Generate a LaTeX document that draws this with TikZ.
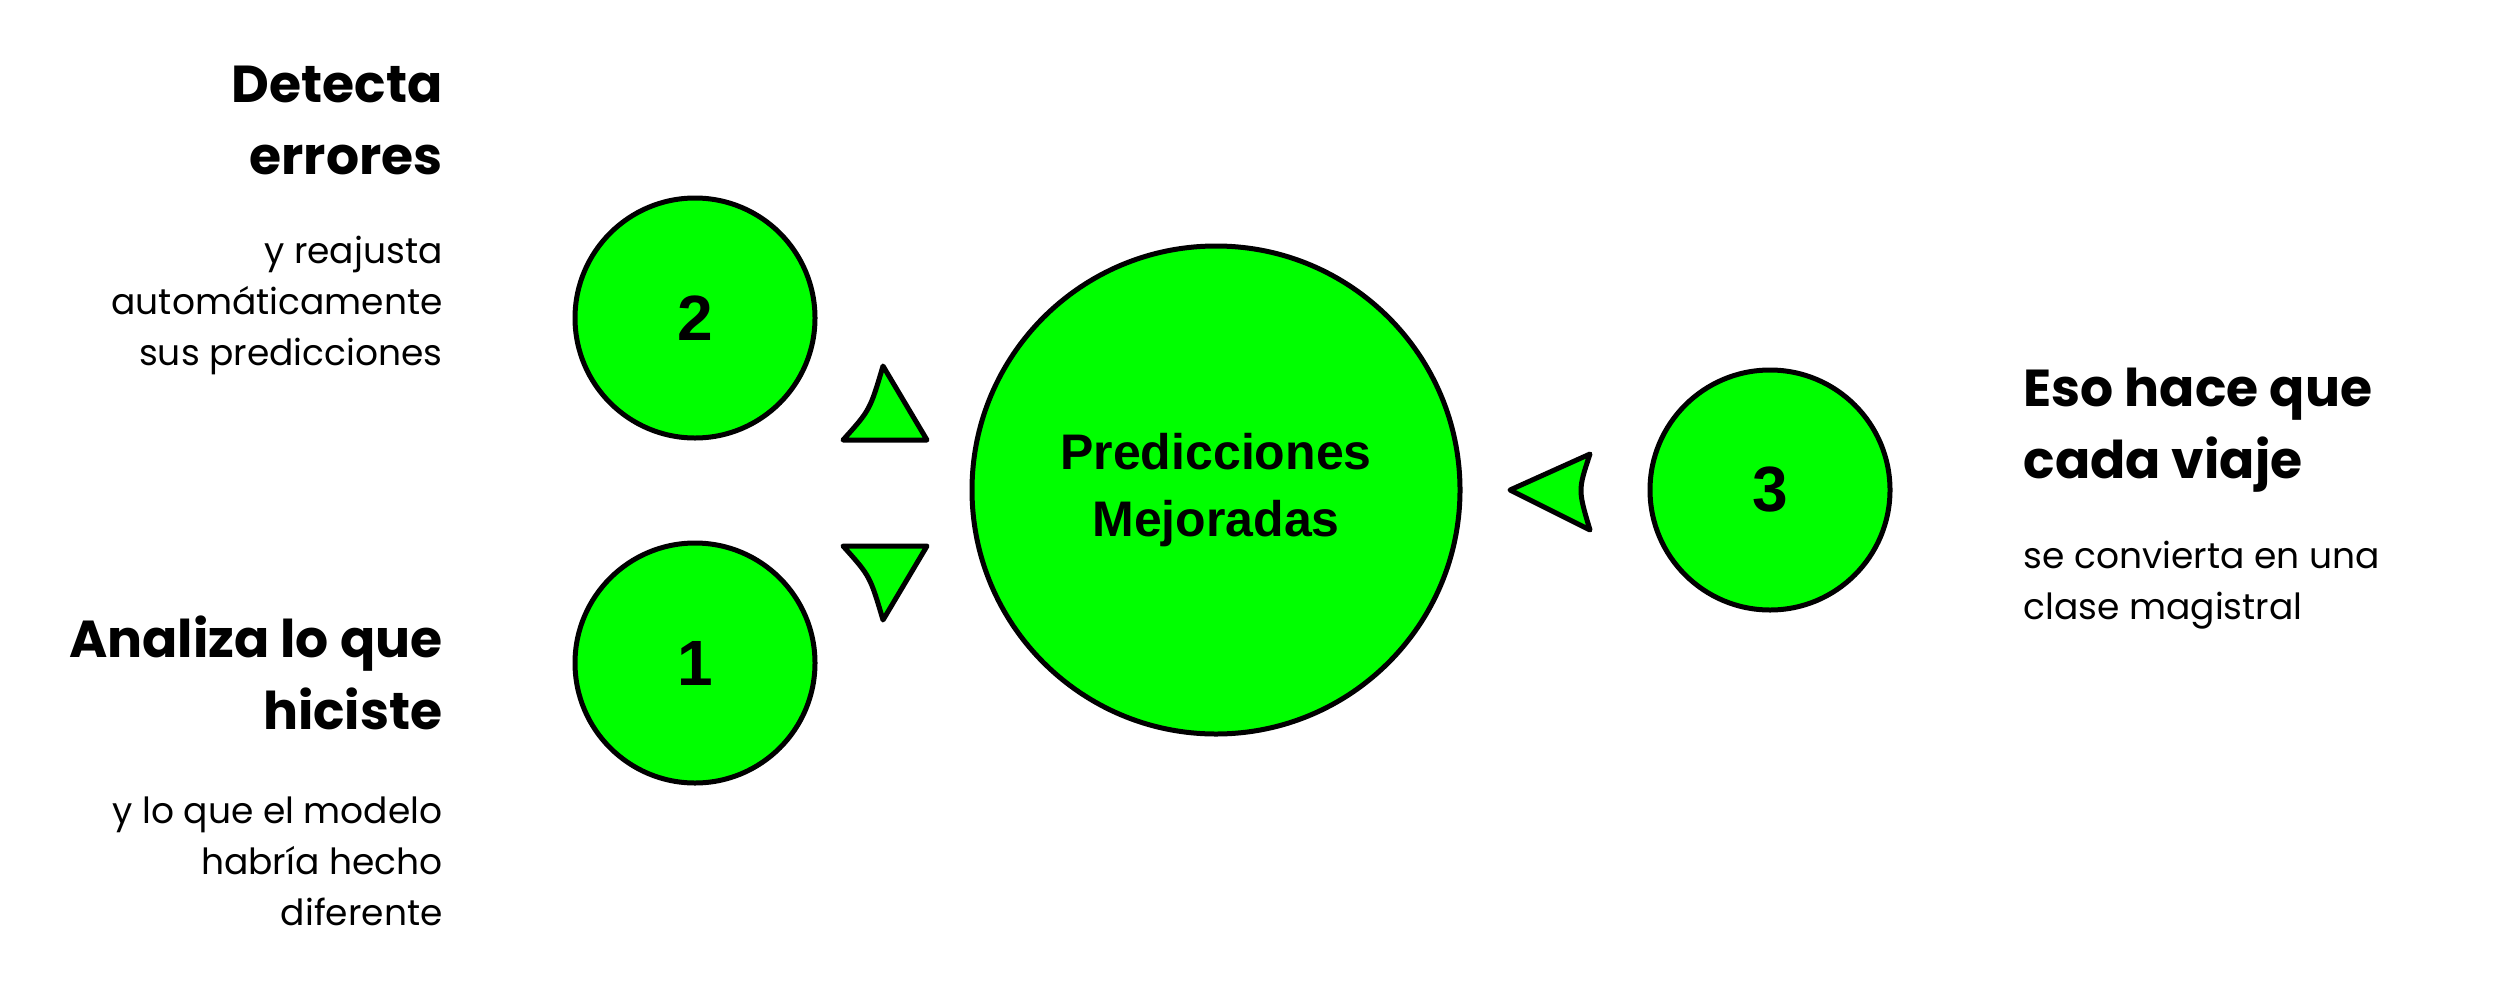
\documentclass[tikz,border=0pt]{standalone}
\usepackage{fontspec}
\setmainfont{Poppins}
\newfontfamily\numfont{Liberation Sans}
\usetikzlibrary{positioning}
\definecolor{limegreen}{RGB}{0,255,0}
\tikzset{
  bubble/.style = {circle, draw=black, line width=5pt, fill=limegreen, inner sep=0pt},
  pointer/.style = {draw=black, line width=5pt, fill=limegreen, line join=round},
  headtext/.style = {font=\fontsize{52}{72}\selectfont\bfseries},
  subtext/.style = {font=\fontsize{36}{51}\selectfont},
}

\begin{document}
\begin{tikzpicture}[x=1pt, y=-1pt]
\useasboundingbox (0,0) rectangle (2518,1004);
% circles
\node[bubble, minimum size=488pt] (main) at (1216,490) {};
\node[font=\numfont\fontsize{50}{67}\selectfont\bfseries, align=center] (maintext) at (main.center) {Predicciones\\Mejoradas};
\node[bubble, minimum size=240pt, font=\numfont\fontsize{64}{64}\selectfont\bfseries] (two) at (695,318) {2};
\node[bubble, minimum size=240pt, font=\numfont\fontsize{64}{64}\selectfont\bfseries] (one) at (695,663) {1};
\node[bubble, minimum size=240pt, font=\numfont\fontsize{64}{64}\selectfont\bfseries] (three) at (1770,490) {3};
% pointers
\draw[pointer] (843,440) .. controls (870,410) .. (883,366) -- (927,440) -- cycle;
\draw[pointer] (843,546) .. controls (870,576) .. (883,620) -- (927,546) -- cycle;
\draw[pointer] (1590,454) .. controls (1578,490) .. (1590,530) -- (1510,490) -- cycle;
% texts
\node[headtext, align=right, anchor=east] (t2) at (446,120) {Detecta\\errores};
\node[subtext, align=right, anchor=east] (s2) at (446,305) {y reajusta\\automáticamente\\sus predicciones};
\node[headtext, align=right, anchor=east] (t1) at (446,673) {Analiza lo que\\hiciste};
\node[subtext, align=right, anchor=east] (s1) at (446,861) {y lo que el modelo\\habría hecho\\diferente};
\node[headtext, align=left, anchor=west] (t3) at (2020,430) {Eso hace que\\cada viaje};
\node[subtext, align=left, anchor=west] (s3) at (2020,585) {se convierta en una\\clase magistral};
\end{tikzpicture}
\end{document}
